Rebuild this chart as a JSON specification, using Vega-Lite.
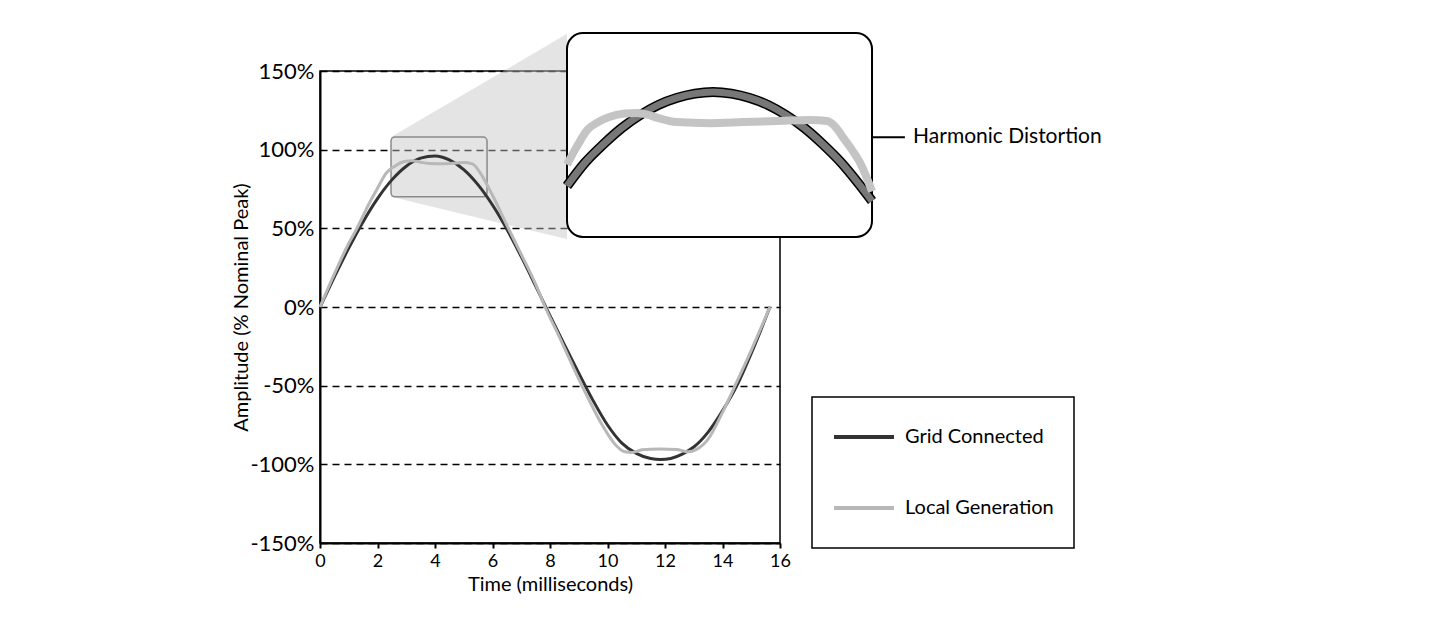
{
  "$schema": "https://vega.github.io/schema/vega-lite/v6.json",
  "width": 460,
  "height": 472,
  "autosize": "none",
  "padding": {"left": 320, "top": 71, "right": 652, "bottom": 81},
  "background": "white",
  "config": {
    "font": "Lato",
    "view": {"stroke": "black", "strokeWidth": 1.5},
    "axis": {"labelFont": "Lato", "titleFont": "Lato", "labelColor": "black", "titleColor": "black", "titleFontWeight": "normal"}
  },
  "datasets": {
    "main": [
      {"t": 0, "v": 0, "s": "Grid Connected"},
      {"t": 0.5, "v": 19.1, "s": "Grid Connected"},
      {"t": 1, "v": 37.4, "s": "Grid Connected"},
      {"t": 1.5, "v": 54.2, "s": "Grid Connected"},
      {"t": 2, "v": 68.9, "s": "Grid Connected"},
      {"t": 2.5, "v": 80.8, "s": "Grid Connected"},
      {"t": 3, "v": 89.5, "s": "Grid Connected"},
      {"t": 3.5, "v": 94.6, "s": "Grid Connected"},
      {"t": 4, "v": 96, "s": "Grid Connected"},
      {"t": 4.5, "v": 93.5, "s": "Grid Connected"},
      {"t": 5, "v": 87.3, "s": "Grid Connected"},
      {"t": 5.5, "v": 77.6, "s": "Grid Connected"},
      {"t": 6, "v": 64.8, "s": "Grid Connected"},
      {"t": 6.5, "v": 49.4, "s": "Grid Connected"},
      {"t": 7, "v": 32, "s": "Grid Connected"},
      {"t": 7.5, "v": 13.4, "s": "Grid Connected"},
      {"t": 8, "v": -5.5, "s": "Grid Connected"},
      {"t": 8.5, "v": -24, "s": "Grid Connected"},
      {"t": 9, "v": -42, "s": "Grid Connected"},
      {"t": 9.5, "v": -59.5, "s": "Grid Connected"},
      {"t": 10, "v": -75, "s": "Grid Connected"},
      {"t": 10.5, "v": -86.5, "s": "Grid Connected"},
      {"t": 11, "v": -93, "s": "Grid Connected"},
      {"t": 11.5, "v": -96.3, "s": "Grid Connected"},
      {"t": 11.85, "v": -97, "s": "Grid Connected"},
      {"t": 12.2, "v": -96.3, "s": "Grid Connected"},
      {"t": 12.6, "v": -93.5, "s": "Grid Connected"},
      {"t": 13, "v": -89, "s": "Grid Connected"},
      {"t": 13.5, "v": -79.5, "s": "Grid Connected"},
      {"t": 14, "v": -66, "s": "Grid Connected"},
      {"t": 14.5, "v": -50, "s": "Grid Connected"},
      {"t": 15, "v": -29.5, "s": "Grid Connected"},
      {"t": 15.65, "v": 0, "s": "Grid Connected"},
      {"t": 0, "v": 0, "s": "Local Generation"},
      {"t": 0.5, "v": 21, "s": "Local Generation"},
      {"t": 1, "v": 40.5, "s": "Local Generation"},
      {"t": 1.3, "v": 50.5, "s": "Local Generation"},
      {"t": 1.7, "v": 65.5, "s": "Local Generation"},
      {"t": 2, "v": 75.5, "s": "Local Generation"},
      {"t": 2.3, "v": 85, "s": "Local Generation"},
      {"t": 2.6, "v": 89.5, "s": "Local Generation"},
      {"t": 2.9, "v": 92.3, "s": "Local Generation"},
      {"t": 3.2, "v": 93, "s": "Local Generation"},
      {"t": 3.5, "v": 92, "s": "Local Generation"},
      {"t": 3.8, "v": 91.2, "s": "Local Generation"},
      {"t": 4.2, "v": 91, "s": "Local Generation"},
      {"t": 4.6, "v": 91.3, "s": "Local Generation"},
      {"t": 5, "v": 91.8, "s": "Local Generation"},
      {"t": 5.3, "v": 91, "s": "Local Generation"},
      {"t": 5.6, "v": 84.5, "s": "Local Generation"},
      {"t": 6, "v": 71, "s": "Local Generation"},
      {"t": 6.5, "v": 52, "s": "Local Generation"},
      {"t": 7, "v": 33.5, "s": "Local Generation"},
      {"t": 7.5, "v": 14.5, "s": "Local Generation"},
      {"t": 7.83, "v": 0, "s": "Local Generation"},
      {"t": 8.3, "v": -18, "s": "Local Generation"},
      {"t": 8.8, "v": -38, "s": "Local Generation"},
      {"t": 9.3, "v": -57, "s": "Local Generation"},
      {"t": 9.8, "v": -74.5, "s": "Local Generation"},
      {"t": 10.3, "v": -88, "s": "Local Generation"},
      {"t": 10.6, "v": -92, "s": "Local Generation"},
      {"t": 10.85, "v": -92.5, "s": "Local Generation"},
      {"t": 11.2, "v": -90.8, "s": "Local Generation"},
      {"t": 11.8, "v": -90.2, "s": "Local Generation"},
      {"t": 12.4, "v": -90.6, "s": "Local Generation"},
      {"t": 12.8, "v": -92, "s": "Local Generation"},
      {"t": 13.1, "v": -90.5, "s": "Local Generation"},
      {"t": 13.5, "v": -84, "s": "Local Generation"},
      {"t": 14, "v": -67, "s": "Local Generation"},
      {"t": 14.5, "v": -47.5, "s": "Local Generation"},
      {"t": 15, "v": -27.5, "s": "Local Generation"},
      {"t": 15.65, "v": 0, "s": "Local Generation"}
    ],
    "inset": [
      {"t": 2.47, "v": 79.5, "s": "Grid Connected"},
      {"t": 2.67, "v": 83.9, "s": "Grid Connected"},
      {"t": 2.87, "v": 87.3, "s": "Grid Connected"},
      {"t": 3.07, "v": 90.3, "s": "Grid Connected"},
      {"t": 3.27, "v": 92.7, "s": "Grid Connected"},
      {"t": 3.47, "v": 94.6, "s": "Grid Connected"},
      {"t": 3.67, "v": 95.9, "s": "Grid Connected"},
      {"t": 3.87, "v": 96.7, "s": "Grid Connected"},
      {"t": 4.07, "v": 97, "s": "Grid Connected"},
      {"t": 4.27, "v": 96.7, "s": "Grid Connected"},
      {"t": 4.47, "v": 95.9, "s": "Grid Connected"},
      {"t": 4.67, "v": 94.6, "s": "Grid Connected"},
      {"t": 4.87, "v": 92.7, "s": "Grid Connected"},
      {"t": 5.07, "v": 90.3, "s": "Grid Connected"},
      {"t": 5.27, "v": 87.3, "s": "Grid Connected"},
      {"t": 5.47, "v": 83.9, "s": "Grid Connected"},
      {"t": 5.67, "v": 79.8, "s": "Grid Connected"},
      {"t": 5.81, "v": 76.7, "s": "Grid Connected"},
      {"t": 2.47, "v": 83.5, "s": "Local Generation"},
      {"t": 2.6, "v": 87.5, "s": "Local Generation"},
      {"t": 2.69, "v": 89.9, "s": "Local Generation"},
      {"t": 2.8, "v": 91.3, "s": "Local Generation"},
      {"t": 2.94, "v": 92.4, "s": "Local Generation"},
      {"t": 3.1, "v": 93, "s": "Local Generation"},
      {"t": 3.24, "v": 93.1, "s": "Local Generation"},
      {"t": 3.35, "v": 92.8, "s": "Local Generation"},
      {"t": 3.46, "v": 92.2, "s": "Local Generation"},
      {"t": 3.67, "v": 91.4, "s": "Local Generation"},
      {"t": 4.04, "v": 91.2, "s": "Local Generation"},
      {"t": 4.4, "v": 91.4, "s": "Local Generation"},
      {"t": 4.77, "v": 91.6, "s": "Local Generation"},
      {"t": 5.13, "v": 91.8, "s": "Local Generation"},
      {"t": 5.32, "v": 91.6, "s": "Local Generation"},
      {"t": 5.42, "v": 90.3, "s": "Local Generation"},
      {"t": 5.49, "v": 88.6, "s": "Local Generation"},
      {"t": 5.6, "v": 86, "s": "Local Generation"},
      {"t": 5.68, "v": 83.8, "s": "Local Generation"},
      {"t": 5.81, "v": 78.5, "s": "Local Generation"}
    ],
    "cone": [
      {"t": 2.47, "hi": 108, "lo": 70},
      {"t": 8.59, "hi": 173.6, "lo": 43.2}
    ]
  },
  "layer": [
    {
      "layer": [
        {
          "data": {"name": "cone"},
          "mark": {"type": "area", "fill": "#c4c4c4", "opacity": 0.45, "clip": false},
          "encoding": {
            "x": {"field": "t", "type": "quantitative", "scale": {"domain": [0, 16], "nice": false, "zero": false},
              "axis": {"values": [0, 2, 4, 6, 8, 10, 12, 14, 16], "title": "Time (milliseconds)", "titleFontSize": 20, "titlePadding": 4,
                "labelFontSize": 18, "labelPadding": 4, "ticks": true, "tickSize": 5, "tickWidth": 2, "tickColor": "black",
                "domainColor": "black", "domainWidth": 2, "grid": false, "labelFlush": false}},
            "y": {"field": "hi", "type": "quantitative", "scale": {"domain": [-150, 150], "nice": false, "zero": false},
              "axis": {"values": [-150, -100, -50, 0, 50, 100, 150], "labelExpr": "datum.value + '%'", "title": "Amplitude (% Nominal Peak)",
                "titleFontSize": 20, "titlePadding": -2, "labelFontSize": 22, "labelPadding": 6, "ticks": false,
                "domainColor": "black", "domainWidth": 2, "grid": true, "gridColor": "black", "gridDash": [7, 5], "gridWidth": 1.3, "gridOpacity": 1, "labelFlush": false}},
            "y2": {"field": "lo"}
          }
        },
        {
          "data": {"values": [{}]},
          "mark": {"type": "rect", "fill": null, "stroke": "#8a8a8a", "strokeWidth": 1.5, "cornerRadius": 4},
          "encoding": {
            "x": {"datum": 2.47, "type": "quantitative"},
            "x2": {"datum": 5.81},
            "y": {"datum": 70, "type": "quantitative"},
            "y2": {"datum": 108}
          }
        },
        {
          "data": {"name": "main"},
          "mark": {"type": "line", "strokeWidth": 3, "interpolate": "monotone"},
          "encoding": {
            "x": {"field": "t", "type": "quantitative"},
            "y": {"field": "v", "type": "quantitative"},
            "color": {"field": "s", "type": "nominal",
              "scale": {"domain": ["Grid Connected", "Local Generation"], "range": ["#333333", "#b8b8b8"]},
              "legend": {"orient": "none", "legendX": 492, "legendY": 326, "title": null, "symbolType": "stroke", "symbolSize": 3600,
                "symbolStrokeWidth": 4, "clipHeight": 40, "rowPadding": 31, "labelFontSize": 20, "labelOffset": 9, "padding": 20,
                "strokeColor": "black", "fillColor": "white", "labelColor": "black", "labelFont": "Lato",
                "encode": {"legend": {"update": {"strokeWidth": {"value": 1.5}}}}}}
          }
        }
      ]
    },
    {
      "layer": [
        {
          "data": {"values": [{}]},
          "mark": {"type": "rect", "fill": "white", "stroke": "black", "strokeWidth": 2, "cornerRadius": 16, "clip": false},
          "encoding": {
            "x": {"datum": 2.47, "type": "quantitative", "scale": {"domain": [-0.2348, 4.8024], "nice": false, "zero": false}, "axis": null},
            "x2": {"datum": 5.81},
            "y": {"datum": 70, "type": "quantitative", "scale": {"domain": [13.0, 100.92], "nice": false, "zero": false}, "axis": null},
            "y2": {"datum": 108}
          }
        },
        {
          "data": {"name": "inset"},
          "transform": [{"filter": "datum.s === 'Grid Connected'"}],
          "mark": {"type": "line", "stroke": "black", "strokeWidth": 10, "interpolate": "monotone", "clip": false},
          "encoding": {
            "x": {"field": "t", "type": "quantitative"},
            "y": {"field": "v", "type": "quantitative"}
          }
        },
        {
          "data": {"name": "inset"},
          "transform": [{"filter": "datum.s === 'Grid Connected'"}],
          "mark": {"type": "line", "stroke": "#777777", "strokeWidth": 7, "interpolate": "monotone", "clip": false},
          "encoding": {
            "x": {"field": "t", "type": "quantitative"},
            "y": {"field": "v", "type": "quantitative"}
          }
        },
        {
          "data": {"name": "inset"},
          "transform": [{"filter": "datum.s === 'Local Generation'"}],
          "mark": {"type": "line", "stroke": "#c4c4c4", "strokeWidth": 8, "interpolate": "monotone", "clip": false},
          "encoding": {
            "x": {"field": "t", "type": "quantitative"},
            "y": {"field": "v", "type": "quantitative"}
          }
        },
        {
          "data": {"values": [{}]},
          "mark": {"type": "rule", "stroke": "black", "strokeWidth": 2, "clip": false},
          "encoding": {
            "x": {"datum": 5.81, "type": "quantitative"},
            "x2": {"datum": 6.17},
            "y": {"datum": 88.6, "type": "quantitative"}
          }
        },
        {
          "data": {"values": [{}]},
          "mark": {"type": "text", "text": "Harmonic Distortion", "align": "left", "baseline": "middle", "fontSize": 21, "font": "Lato", "color": "black", "clip": false},
          "encoding": {
            "x": {"datum": 6.26, "type": "quantitative"},
            "y": {"datum": 88.6, "type": "quantitative"}
          }
        }
      ]
    }
  ],
  "resolve": {"scale": {"x": "independent", "y": "independent", "color": "independent"}}
}
